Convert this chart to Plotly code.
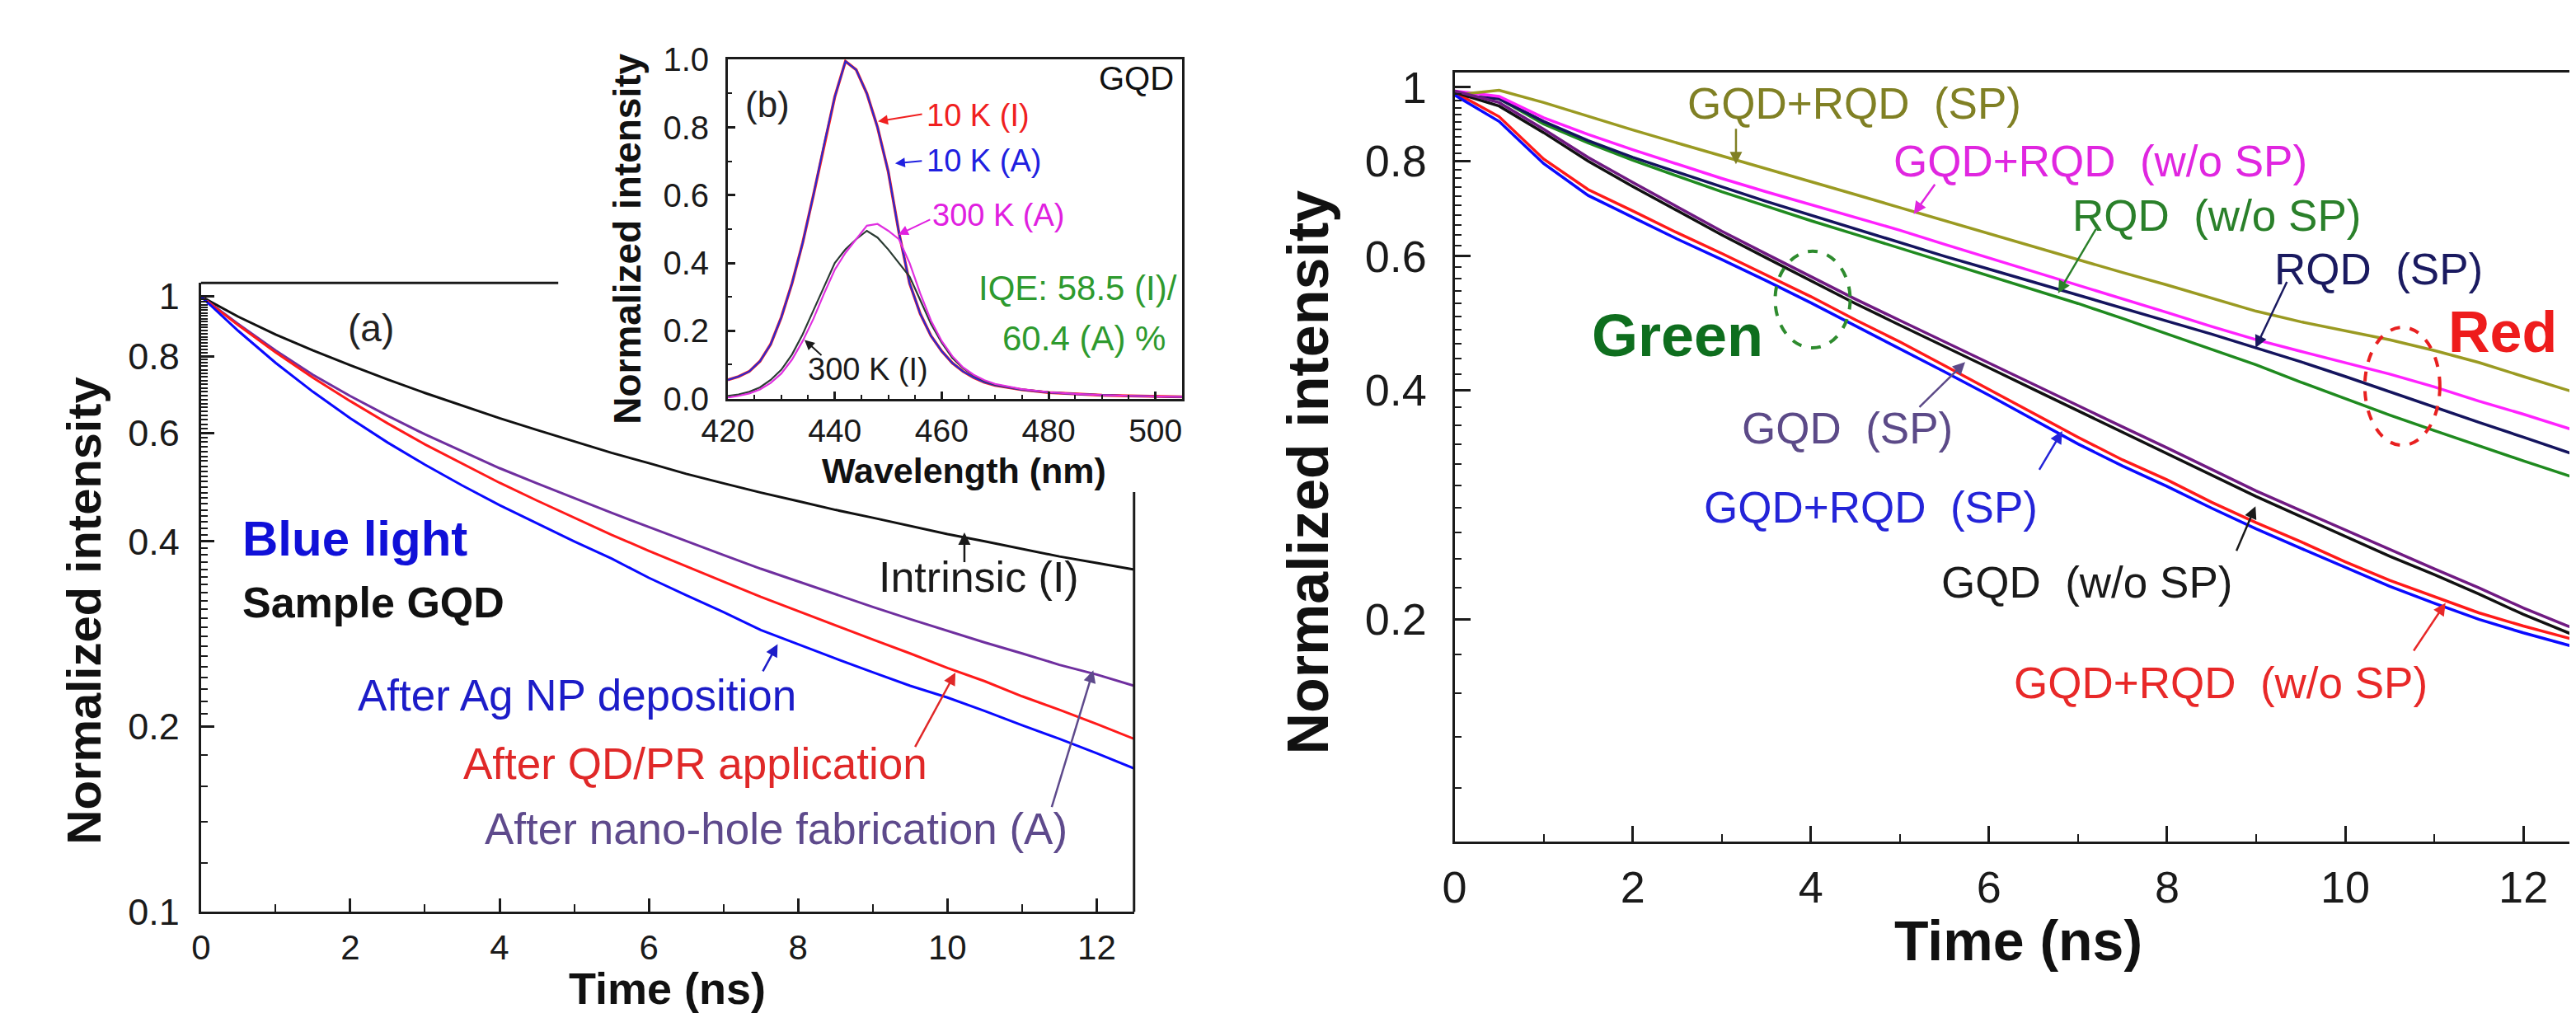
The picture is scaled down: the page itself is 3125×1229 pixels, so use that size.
import plotly.graph_objects as go

W, H = 3125, 1229
FONT = "Liberation Sans, Arial, Helvetica, sans-serif"

# ---------------- Panel (a): PL decay, blue light, sample GQD ----------------
time_a = [0, 0.5, 1, 1.5, 2, 2.5, 3, 3.5, 4, 4.5, 5, 5.5, 6, 6.5, 7, 7.5, 8, 8.5,
          9, 9.5, 10, 10.5, 11, 11.5, 12, 12.5]
intrinsic_I = [1.0, 0.927, 0.867, 0.817, 0.773, 0.733, 0.697, 0.664, 0.634, 0.607,
               0.581, 0.557, 0.536, 0.515, 0.497, 0.480, 0.465, 0.450, 0.437, 0.424,
               0.411, 0.400, 0.389, 0.378, 0.369, 0.360]
after_nanohole_A = [1.0, 0.902, 0.817, 0.746, 0.689, 0.640, 0.597, 0.560, 0.526, 0.497,
                    0.470, 0.445, 0.422, 0.400, 0.380, 0.361, 0.344, 0.328, 0.313, 0.299,
                    0.286, 0.274, 0.263, 0.252, 0.243, 0.233]
after_qd_pr = [1.0, 0.898, 0.811, 0.738, 0.676, 0.622, 0.575, 0.535, 0.498, 0.466,
               0.437, 0.410, 0.386, 0.364, 0.344, 0.325, 0.308, 0.292, 0.277, 0.263,
               0.249, 0.237, 0.224, 0.213, 0.202, 0.191]
after_ag_np = [1.0, 0.879, 0.780, 0.700, 0.634, 0.579, 0.533, 0.493, 0.458, 0.428,
               0.400, 0.375, 0.349, 0.327, 0.307, 0.287, 0.272, 0.258, 0.245, 0.233,
               0.223, 0.212, 0.201, 0.191, 0.181, 0.171]

# ---------------- Panel (b): PL spectra ----------------
wavelength_b = [420, 422, 424, 426, 428, 430, 432, 434, 436, 438, 440, 442, 444, 446,
                448, 450, 452, 454, 456, 458, 460, 462, 464, 466, 468, 470, 475, 480,
                485, 490, 495, 500, 505]
pl_10K_I = [0.055, 0.065, 0.080, 0.110, 0.160, 0.240, 0.340, 0.460, 0.600, 0.750, 0.890,
            0.995, 0.970, 0.900, 0.800, 0.670, 0.490, 0.340, 0.250, 0.185, 0.140, 0.105,
            0.080, 0.062, 0.048, 0.039, 0.026, 0.018, 0.013, 0.010, 0.008, 0.006, 0.005]
pl_10K_A = [0.055, 0.065, 0.080, 0.110, 0.160, 0.240, 0.340, 0.460, 0.600, 0.750, 0.890,
            0.995, 0.970, 0.900, 0.800, 0.670, 0.490, 0.340, 0.250, 0.185, 0.140, 0.105,
            0.080, 0.062, 0.048, 0.039, 0.026, 0.018, 0.013, 0.010, 0.008, 0.006, 0.005]
pl_300K_I = [0.008, 0.012, 0.020, 0.033, 0.055, 0.085, 0.130, 0.190, 0.260, 0.330, 0.400,
             0.440, 0.470, 0.495, 0.475, 0.440, 0.400, 0.360, 0.290, 0.220, 0.165, 0.120,
             0.090, 0.068, 0.052, 0.041, 0.027, 0.019, 0.014, 0.010, 0.008, 0.006, 0.005]
pl_300K_A = [0.003, 0.008, 0.015, 0.027, 0.046, 0.074, 0.115, 0.170, 0.235, 0.310, 0.380,
             0.430, 0.470, 0.510, 0.515, 0.495, 0.470, 0.400, 0.310, 0.230, 0.170, 0.125,
             0.092, 0.070, 0.054, 0.043, 0.028, 0.019, 0.014, 0.010, 0.008, 0.006, 0.005]

# ---------------- Right panel: PL decays with/without SP ----------------
time_c = [0, 0.5, 1, 1.5, 2, 2.5, 3, 3.5, 4, 4.5, 5, 5.5, 6, 6.5, 7, 7.5, 8, 8.5,
          9, 9.5, 10, 10.5, 11, 11.5, 12, 12.5, 12.65]
gqd_rqd_sp_red = [0.977, 0.991, 0.955, 0.916, 0.879, 0.845, 0.813, 0.782, 0.752, 0.723,
                  0.695, 0.668, 0.643, 0.618, 0.594, 0.571, 0.550, 0.528, 0.508, 0.492,
                  0.479, 0.466, 0.451, 0.435, 0.417, 0.400, 0.395]
gqd_rqd_wo_red = [0.989, 0.973, 0.912, 0.867, 0.828, 0.792, 0.759, 0.729, 0.701, 0.675,
                  0.649, 0.622, 0.597, 0.573, 0.550, 0.527, 0.506, 0.485, 0.466, 0.450,
                  0.435, 0.420, 0.404, 0.387, 0.372, 0.356, 0.352]
rqd_sp = [0.977, 0.966, 0.902, 0.851, 0.809, 0.773, 0.740, 0.708, 0.679, 0.652,
          0.625, 0.600, 0.577, 0.555, 0.533, 0.513, 0.493, 0.474, 0.455, 0.436,
          0.417, 0.398, 0.380, 0.363, 0.347, 0.331, 0.327]
rqd_wo_sp = [0.977, 0.966, 0.895, 0.845, 0.802, 0.764, 0.729, 0.698, 0.668, 0.641,
             0.615, 0.590, 0.566, 0.543, 0.520, 0.497, 0.474, 0.453, 0.432, 0.410,
             0.390, 0.371, 0.354, 0.338, 0.323, 0.309, 0.305]
gqd_sp = [0.989, 0.955, 0.881, 0.809, 0.750, 0.697, 0.647, 0.604, 0.564, 0.527,
          0.494, 0.463, 0.435, 0.407, 0.382, 0.358, 0.336, 0.315, 0.295, 0.278,
          0.262, 0.247, 0.233, 0.220, 0.207, 0.196, 0.193]
gqd_wo_sp = [0.985, 0.945, 0.872, 0.800, 0.741, 0.689, 0.640, 0.597, 0.557, 0.520,
             0.487, 0.456, 0.428, 0.401, 0.376, 0.352, 0.330, 0.310, 0.290, 0.273,
             0.257, 0.242, 0.229, 0.216, 0.203, 0.192, 0.189]
gqd_rqd_sp_green = [0.977, 0.902, 0.794, 0.721, 0.675, 0.632, 0.594, 0.557, 0.521, 0.486,
                    0.454, 0.423, 0.394, 0.366, 0.340, 0.318, 0.299, 0.280, 0.263, 0.248,
                    0.234, 0.221, 0.210, 0.200, 0.192, 0.185, 0.183]
gqd_rqd_wo_green = [0.985, 0.915, 0.805, 0.734, 0.688, 0.644, 0.605, 0.567, 0.531, 0.495,
                    0.463, 0.431, 0.401, 0.373, 0.347, 0.324, 0.305, 0.285, 0.268, 0.253,
                    0.238, 0.225, 0.214, 0.204, 0.196, 0.189, 0.187]

# tick labels
ticks_a_y = [0.1, 0.2, 0.4, 0.6, 0.8, 1]
ticks_a_y_text = ["0.1", "0.2", "0.4", "0.6", "0.8", "1"]
ticks_t = [0, 2, 4, 6, 8, 10, 12]
ticks_b_x = [420, 440, 460, 480, 500]
ticks_b_y = [0.0, 0.2, 0.4, 0.6, 0.8, 1.0]
ticks_b_y_text = ["0.0", "0.2", "0.4", "0.6", "0.8", "1.0"]
ticks_c_y = [0.2, 0.4, 0.6, 0.8, 1]
ticks_c_y_text = ["0.2", "0.4", "0.6", "0.8", "1"]

minor_t = [1, 3, 5, 7, 9, 11]
minor_a_y = [0.12, 0.14, 0.16, 0.18] + [round(0.2 + 0.01 * i, 2) for i in range(1, 80)
                                        if round(0.2 + 0.01 * i, 2) not in (0.4, 0.6, 0.8)]
minor_c_y = [round(0.1 + 0.02 * i, 2) for i in range(1, 45)
             if round(0.1 + 0.02 * i, 2) not in (0.2, 0.4, 0.6, 0.8)]
minor_b_x = [425, 430, 435, 445, 450, 455, 465, 470, 475, 485, 490, 495, 505]
minor_b_y = [0.1, 0.3, 0.5, 0.7, 0.9]


def fx(x):
    return x / W


def fy(y):
    return 1 - y / H


fig = go.Figure()

# panel (a) traces
for ys, col in [(intrinsic_I, "#111111"), (after_nanohole_A, "#6f2f9f"),
                (after_qd_pr, "#ff1a1a"), (after_ag_np, "#0a0aff")]:
    fig.add_trace(go.Scatter(x=time_a, y=ys, mode="lines", xaxis="x", yaxis="y",
                             line=dict(color=col, width=3)))

# panel (b) traces
for ys, col, wd in [(pl_10K_I, "#ff2020", 3.5), (pl_10K_A, "#2a2ad0", 2.2),
                    (pl_300K_I, "#2b3b33", 2.2), (pl_300K_A, "#e030e0", 2.2)]:
    fig.add_trace(go.Scatter(x=wavelength_b, y=ys, mode="lines", xaxis="x2", yaxis="y2",
                             line=dict(color=col, width=wd)))

# right panel traces
for ys, col in [(rqd_wo_sp, "#1f8a1f"), (rqd_sp, "#14145e"), (gqd_rqd_wo_red, "#ff22ff"),
                (gqd_rqd_sp_red, "#9a9a22"), (gqd_rqd_wo_green, "#ff1a1a"),
                (gqd_rqd_sp_green, "#0a0aff"), (gqd_wo_sp, "#111111"), (gqd_sp, "#701a82")]:
    fig.add_trace(go.Scatter(x=time_c, y=ys, mode="lines", xaxis="x3", yaxis="y3",
                             line=dict(color=col, width=3.5)))

AXC = "#1a1a1a"


def axis(size, standoff, ticklen, minor_vals, minor_len, **kw):
    d = dict(showline=True, linecolor=AXC, linewidth=3, ticks="inside", tickcolor=AXC,
             tickwidth=2.5, ticklen=ticklen, showgrid=False, zeroline=False,
             tickfont=dict(family=FONT, size=size, color=AXC), ticklabelstandoff=standoff,
             minor=dict(tickmode="array", tickvals=minor_vals, ticks="inside",
                        ticklen=minor_len, tickwidth=2, tickcolor=AXC, showgrid=False))
    d.update(kw)
    return d


fig.update_layout(
    width=W, height=H, margin=dict(l=0, r=0, t=0, b=0),
    paper_bgcolor="white", plot_bgcolor="rgba(0,0,0,0)", showlegend=False,
    xaxis=axis(42, 4, 16, minor_t, 9, domain=[fx(205), fx(1349)], anchor="y",
               range=[0, 12.5], tickmode="array", tickvals=ticks_t, mirror=False),
    yaxis=axis(45, 14, 16, minor_a_y, 8, domain=[fy(1120), fy(326)], anchor="x",
               type="log", range=[-1.0, 0.022], tickmode="array", tickvals=ticks_a_y,
               ticktext=ticks_a_y_text, mirror=False),
    xaxis2=axis(39, 3, 9, minor_b_x, 5, domain=[fx(851), fx(1408)], anchor="y2",
                range=[420, 505], tickmode="array", tickvals=ticks_b_x, mirror=True),
    yaxis2=axis(40, 12, 9, minor_b_y, 5, domain=[fy(472), fy(44)], anchor="x2",
                range=[0, 1.0], tickmode="array", tickvals=ticks_b_y,
                ticktext=ticks_b_y_text, mirror=True),
    xaxis3=axis(54, 6, 19, minor_t, 9, domain=[fx(1742), 1.0], anchor="y3",
                range=[0, 12.665], tickmode="array", tickvals=ticks_t, mirror=True),
    yaxis3=axis(54, 20, 19, minor_c_y, 8, domain=[fy(1031), fy(60)], anchor="x3",
                type="log", range=[-0.9906, 0.0198], tickmode="array", tickvals=ticks_c_y,
                ticktext=ticks_c_y_text, mirror=False),
)

shapes = [
    # partial frame of panel (a)
    dict(type="line", xref="paper", yref="paper", x0=fx(205), x1=fx(643), y0=fy(326), y1=fy(326),
         line=dict(color=AXC, width=3)),
    dict(type="line", xref="paper", yref="paper", x0=fx(1349), x1=fx(1349), y0=fy(590), y1=fy(1120),
         line=dict(color=AXC, width=3)),
    # dashed ellipses
    dict(type="circle", xref="paper", yref="paper", x0=fx(2135), x1=fx(2227), y0=fy(408), y1=fy(286),
         line=dict(color="#2e8b2e", width=4, dash="dash")),
    dict(type="circle", xref="paper", yref="paper", x0=fx(2858), x1=fx(2950), y0=fy(531), y1=fy(382),
         line=dict(color="#e82020", width=4, dash="dash")),
]
fig.update_layout(shapes=shapes)


def txt(x, y, text, size, color, xanchor="left", angle=0, bold=False):
    return dict(x=fx(x), y=fy(y), xref="paper", yref="paper",
                text=("<b>%s</b>" % text) if bold else text, showarrow=False,
                xanchor=xanchor, yanchor="middle", textangle=angle,
                font=dict(family=FONT, size=size, color=color))


def arr(head, tail, color, width=2.5):
    return dict(x=fx(head[0]), y=fy(head[1]), xref="paper", yref="paper", text=" ",
                showarrow=True, ax=tail[0] - head[0], ay=tail[1] - head[1],
                arrowhead=2, arrowsize=1.2, arrowwidth=width, arrowcolor=color,
                standoff=0, startstandoff=0, font=dict(size=1))


ann = [
    # panel (a)
    txt(61, 740, "Normalized intensity", 58, "#111111", xanchor="center", angle=-90, bold=True),
    txt(777, 1216, "Time (ns)", 54, "#111111", xanchor="center", bold=True),
    txt(383, 383, "(a)", 46, "#222222"),
    txt(254, 649, "Blue light", 60, "#1010d8", bold=True),
    txt(254, 729, "Sample GQD", 52, "#111111", bold=True),
    txt(1034, 697, "Intrinsic (I)", 52, "#1a1a1a"),
    txt(395, 847, "After Ag NP deposition", 53, "#1c1cc8"),
    txt(525, 933, "After QD/PR application", 53, "#e02828"),
    txt(551, 1015, "After nano-hole fabrication (A)", 53, "#5e4a8c"),
    arr((1141, 641), (1141, 679), "#1a1a1a"),
    arr((912, 782), (893, 817), "#1c1cc8"),
    arr((1130, 818), (1080, 910), "#e02828"),
    arr((1299, 815), (1248, 983), "#5e4a8c"),
    # panel (b)
    txt(728, 270, "Normalized intensity", 46, "#111111", xanchor="center", angle=-90, bold=True),
    txt(1141, 563, "Wavelength (nm)", 43, "#111111", xanchor="center", bold=True),
    txt(870, 100, "(b)", 44, "#222222"),
    txt(1400, 68, "GQD", 40, "#111111", xanchor="right"),
    txt(1093, 114, "10 K (I)", 38, "#f02020"),
    txt(1093, 172, "10 K (A)", 38, "#2020e0"),
    txt(1100, 240, "300 K (A)", 38, "#e020e0"),
    txt(947, 435, "300 K (I)", 38, "#1a1a1a"),
    txt(1404, 333, "IQE: 58.5 (I)/", 42, "#2e9a2e", xanchor="right"),
    txt(1390, 396, "60.4 (A) %", 42, "#2e9a2e", xanchor="right"),
    arr((1035, 122), (1090, 113), "#f02020", 2),
    arr((1056, 175), (1090, 172), "#2020e0", 2),
    arr((1060, 265), (1100, 246), "#e020e0", 2),
    arr((945, 398), (967, 418), "#1a1a1a", 2),
    # right panel
    txt(1562, 565, "Normalized intensity", 70, "#111111", xanchor="center", angle=-90, bold=True),
    txt(2433, 1156, "Time (ns)", 68, "#111111", xanchor="center", bold=True),
    txt(2025, 99, "GQD+RQD&nbsp;&nbsp;(SP)", 53, "#808024"),
    txt(2278, 172, "GQD+RQD&nbsp;&nbsp;(w/o SP)", 53, "#e026e0"),
    txt(2497, 241, "RQD&nbsp;&nbsp;(w/o SP)", 53, "#2a802a"),
    txt(2745, 309, "RQD&nbsp;&nbsp;(SP)", 53, "#1a1a60"),
    txt(2958, 388, "Red", 70, "#ee1c1c", bold=True),
    txt(1908, 392, "Green", 72, "#0e6e1e", bold=True),
    txt(2092, 509, "GQD&nbsp;&nbsp;(SP)", 53, "#5c4a88"),
    txt(2046, 609, "GQD+RQD&nbsp;&nbsp;(SP)", 53, "#2424d8"),
    txt(2337, 704, "GQD&nbsp;&nbsp;(w/o SP)", 53, "#1a1a1a"),
    txt(2426, 831, "GQD+RQD&nbsp;&nbsp;(w/o SP)", 53, "#e82828"),
    arr((2087, 176), (2087, 131), "#808024"),
    arr((2305, 239), (2332, 201), "#e026e0"),
    arr((2482, 339), (2529, 259), "#2a802a"),
    arr((2724, 408), (2763, 326), "#1a1a60"),
    arr((2368, 426), (2311, 482), "#5c4a88"),
    arr((2487, 513), (2458, 562), "#2424d8"),
    arr((2724, 608), (2700, 664), "#1a1a1a"),
    arr((2957, 730), (2917, 790), "#e82828"),
]
fig.update_layout(annotations=ann)

fig.write_html("out.html")
